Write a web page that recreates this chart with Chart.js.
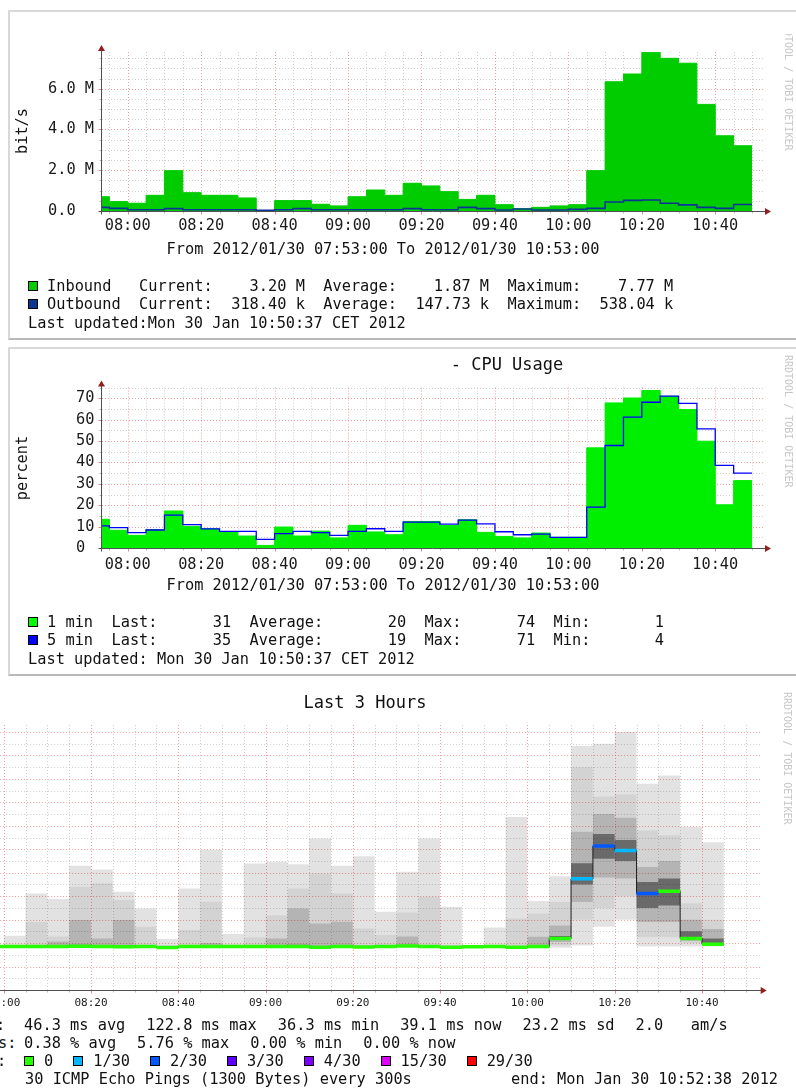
<!DOCTYPE html>
<html>
<head>
<meta charset="utf-8">
<script src="https://cdn.jsdelivr.net/npm/chart.js"></script>
<style>
  html, body { margin: 0; padding: 0; background: #fff; }
  body { width: 796px; height: 1092px; position: relative; overflow: hidden;
         font-family: "DejaVu Sans Mono", monospace; color: #111; }
  .frame { position: absolute; box-sizing: border-box;
           border-top: 2px solid #d8d8d8; border-left: 2px solid #d8d8d8; border-bottom: 2px solid #b8b8b8; }
  canvas { position: absolute; }
  .txt { position: absolute; white-space: pre; font-size: 15.3px; line-height: 18px; }
  .row { position: absolute; white-space: pre; font-size: 15.3px; line-height: 18px; display: flex; align-items: center; }
  .box { display: inline-block; width: 10px; height: 10px; box-sizing: border-box; border: 1px solid #000; margin-right: 9px; }
  .center { left: 0; width: 766px; text-align: center; }
  .vlabel { position: absolute; white-space: pre; font-size: 15.3px; line-height: 18px; transform: translate(-50%, -50%) rotate(-90deg); }
  .title { position: absolute; white-space: pre; font-size: 17px; line-height: 20px; transform: translateX(-50%); }
  .wm { position: absolute; writing-mode: vertical-rl; white-space: pre; font-size: 10px; line-height: 12px; color: #c6c6c6; }
  .items { display: flex; gap: 21px; }
  .lc { display: flex; align-items: center; margin-right: 20px; }
  .lc .box { margin-right: 10px; }
</style>
</head>
<body>

<div class="frame" style="left:8px;top:10px;width:800px;height:330px"></div>
<div class="frame" style="left:8px;top:347px;width:800px;height:329px"></div>

<canvas id="traffic" width="796" height="340" style="left:0;top:0"></canvas>
<canvas id="cpu" width="796" height="340" style="left:0;top:340px"></canvas>
<canvas id="ping" width="880" height="340" style="left:-80px;top:680px"></canvas>

<!-- traffic graph texts -->
<div class="vlabel" style="left:22px;top:131px">bit/s</div>
<div style="position:absolute;left:780px;top:34px;width:16px;height:130px;overflow:hidden">
  <div class="wm" style="left:2px;top:-16px">RRDTOOL / TOBI OETIKER</div>
</div>
<div class="txt center" style="top:240px">From 2012/01/30 07:53:00 To 2012/01/30 10:53:00</div>
<div class="row" style="left:28px;top:277px"><i class="box" style="background:#00cc00"></i>Inbound   Current:    3.20 M  Average:    1.87 M  Maximum:    7.77 M</div>
<div class="row" style="left:28px;top:295px"><i class="box" style="background:#0a3597"></i>Outbound  Current:  318.40 k  Average:  147.73 k  Maximum:  538.04 k</div>
<div class="txt" style="left:28px;top:314px">Last updated:Mon 30 Jan 10:50:37 CET 2012</div>

<!-- cpu graph texts -->
<div class="title" style="left:507px;top:354px">- CPU Usage</div>
<div class="wm" style="left:782px;top:355px">RRDTOOL / TOBI OETIKER</div>
<div class="vlabel" style="left:22px;top:468px">percent</div>
<div class="txt center" style="top:576px">From 2012/01/30 07:53:00 To 2012/01/30 10:53:00</div>
<div class="row" style="left:28px;top:613px"><i class="box" style="background:#00ff00"></i>1 min  Last:      31  Average:       20  Max:      74  Min:       1</div>
<div class="row" style="left:28px;top:631px"><i class="box" style="background:#0000ff"></i>5 min  Last:      35  Average:       19  Max:      71  Min:       4</div>
<div class="txt" style="left:28px;top:650px">Last updated: Mon 30 Jan 10:50:37 CET 2012</div>

<!-- ping graph texts -->
<div class="title" style="left:365px;top:692px">Last 3 Hours</div>
<div class="wm" style="left:781px;top:692px">RRDTOOL / TOBI OETIKER</div>
<div class="txt" style="left:-4px;top:1016px">:</div>
<div class="row items" style="left:24px;top:1016px"><span>46.3 ms avg</span><span>122.8 ms max</span><span>36.3 ms min</span><span>39.1 ms now</span><span>23.2 ms sd</span><span>2.0   am/s</span></div>
<div class="txt" style="left:-2px;top:1034px">s:</div>
<div class="row items" style="left:24px;top:1034px"><span>0.38 % avg</span><span>5.76 % max</span><span>0.00 % min</span><span>0.00 % now</span></div>
<div class="txt" style="left:-3px;top:1052px">:</div>
<div class="row" id="lossLegend" style="left:24px;top:1052px"></div>
<div class="txt" style="left:25px;top:1070px">30 ICMP Echo Pings (1300 Bytes) every 300s</div>
<div class="txt" style="left:511px;top:1070px">end: Mon Jan 30 10:52:38 2012</div>

<script>
// ---------- time axis ----------
const rangeStart = '07:53';
const rangeEnd = '10:53';

// ---------- traffic: 5-minute bins, labelled by bin end ----------
const trafficBinEnds = ['07:55','08:00','08:05','08:10','08:15','08:20','08:25','08:30','08:35','08:40',
  '08:45','08:50','08:55','09:00','09:05','09:10','09:15','09:20','09:25','09:30','09:35','09:40',
  '09:45','09:50','09:55','10:00','10:05','10:10','10:15','10:20','10:25','10:30','10:35','10:40',
  '10:45','10:50'];
const inboundMbit = [0.70, 0.46, 0.38, 0.77, 1.98, 0.90, 0.77, 0.77, 0.64, 0.02,
  0.51, 0.51, 0.33, 0.25, 0.70, 1.03, 0.77, 1.36, 1.23, 0.95, 0.57, 0.77,
  0.31, 0.11, 0.18, 0.25, 0.31, 1.98, 6.34, 6.72, 7.77, 7.49, 7.25, 5.23,
  3.69, 3.20];
const outboundKbit = [180, 130, 60, 60, 115, 60, 60, 60, 60, 40,
  60, 115, 60, 60, 60, 60, 60, 115, 60, 60, 180, 115,
  50, 100, 50, 50, 80, 130, 440, 520, 538, 380, 300, 180,
  130, 318.4];
const trafficTicksM = [0, 2, 4, 6];

// ---------- cpu: same bins ----------
const cpuOneMin = [13.4, 8.3, 5.9, 8.6, 17.3, 10.1, 9.0, 7.5, 5.6, 1.2,
  9.8, 5.6, 7.9, 4.7, 10.6, 7.5, 6.2, 12.4, 12.4, 10.5, 13.2, 7.3,
  5.4, 4.7, 7.0, 5.0, 5.0, 46.8, 67.8, 70.1, 73.6, 70.9, 64.7, 49.9,
  20.2, 31.5];
const cpuFiveMin = [10.3, 9.5, 7.2, 8.4, 15.4, 10.9, 8.9, 7.8, 7.8, 4.0,
  6.7, 7.8, 7.2, 5.9, 7.8, 9.0, 7.8, 12.1, 12.1, 11.2, 13.0, 11.3,
  7.6, 6.2, 6.5, 5.0, 5.0, 19.1, 47.9, 61.2, 68.1, 71.0, 67.6, 55.7,
  38.6, 35.0];

// ---------- smokeping: 5-minute bins, labelled by bin start (ms) ----------
const pingBinStarts = ['07:55','08:00','08:05','08:10','08:15','08:20','08:25','08:30','08:35','08:40',
  '08:45','08:50','08:55','09:00','09:05','09:10','09:15','09:20','09:25','09:30','09:35','09:40',
  '09:45','09:50','09:55','10:00','10:05','10:10','10:15','10:20','10:25','10:30','10:35','10:40'];
const pingMedian = [37.0, 37.0, 37.2, 37.0, 37.3, 37.0, 36.8, 37.0, 36.3, 37.0,
  37.0, 37.0, 37.2, 37.0, 37.0, 36.5, 37.0, 36.6, 37.0, 37.5, 37.0, 36.5,
  36.8, 37.0, 36.5, 37.0, 44.0, 94.8, 122.8, 119.0, 82.3, 84.3, 44.0, 39.1];
const pingLost = [0,0,0,0,0,0,0,0,0,0, 0,0,0,0,0,0,0,0,0,0,0,0, 0,0,0,0,0,1,2,1,2,0,0,0];
const pingMin = [37, 36.5, 36.5, 36.5, 36.8, 36.6, 36.6, 36.6, 36.0, 36.6,
  36.7, 36.6, 36.7, 36.7, 36.7, 36.4, 36.7, 36.4, 36.7, 37.0, 36.7, 36.3,
  36.6, 36.7, 36.3, 36.7, 36, 38, 54, 60, 37, 37, 37, 37];
const pingP10 = [37, 36.8, 36.8, 36.8, 37.0, 36.9, 36.9, 36.9, 36.1, 36.9,
  37.0, 36.8, 37.0, 37.0, 37.0, 36.7, 37.0, 36.6, 37.0, 37.3, 37.0, 36.5,
  36.7, 36.9, 36.5, 37.0, 38, 60, 70, 80, 45, 45, 40, 38];
const pingP25 = [37, 37.0, 37.0, 37.0, 37.3, 37.0, 37.0, 37.0, 36.2, 37.0,
  37.1, 36.9, 37.1, 37.1, 37.2, 36.8, 37.1, 36.8, 37.1, 37.4, 37.1, 36.6,
  36.8, 37.0, 36.6, 37.1, 41, 75, 96, 95, 58, 58, 42, 39];
const pingP40 = [37, 37.0, 37.1, 37.1, 37.6, 37.2, 37.2, 37.1, 36.3, 37.1,
  37.3, 37.0, 37.2, 37.3, 37.3, 37.0, 37.2, 36.9, 37.2, 37.5, 37.2, 36.7,
  36.9, 37.1, 36.7, 37.2, 43, 90, 112, 110, 70, 72, 44, 40];
const pingP60 = [37, 37.2, 37.4, 37.5, 38.5, 37.6, 38.0, 37.4, 36.5, 37.4,
  37.8, 37.2, 37.5, 38.0, 38.5, 37.5, 37.6, 37.2, 37.5, 38.0, 37.5, 37.0,
  37.0, 37.3, 37.0, 37.6, 46, 108, 133, 128, 92, 95, 50, 44];
const pingP75 = [37, 37.5, 38.0, 41.3, 59.6, 44.0, 59.6, 38.0, 37.0, 38.0,
  40.0, 37.5, 38.0, 43.9, 69.6, 56.8, 58.3, 38.0, 38.0, 45.6, 38.0, 37.5,
  37.2, 37.6, 37.5, 45.4, 55, 135, 150, 147, 105, 110, 60, 52];
const pingP90 = [37, 38.0, 58.0, 45.6, 88.0, 91.0, 76.7, 53.9, 38.0, 51.1,
  75.2, 38.5, 44.9, 63.8, 86.6, 99.4, 82.4, 52.5, 46.8, 66.0, 79.5, 38.5,
  37.5, 38.2, 61.0, 65.3, 75, 190, 165, 167, 136, 132, 74, 60];
const pingMax = [37, 46.3, 82.4, 77.6, 106.0, 102.8, 83.8, 69.6, 43.4, 86.6,
  119.3, 47.7, 107.9, 109.3, 107.3, 129.2, 105.9, 114.1, 66.7, 100.8, 129.2, 70.9,
  38.5, 53.4, 147.6, 75.8, 97, 208, 210, 220, 176, 183, 139, 126];

const lossLevels = ['0', '1/30', '2/30', '3/30', '4/30', '15/30', '29/30'];
const lossColors = ['#26ff00', '#00b8ff', '#0059ff', '#5e00ff', '#7e00ff', '#dd00ff', '#ff0000'];

// ---------- helpers ----------
const toMin = s => { const [h, m] = s.split(':').map(Number); return h * 60 + m; };
const fmtHM = v => String(Math.floor(v / 60)).padStart(2, '0') + ':' + String(v % 60).padStart(2, '0');
const xMin = toMin(rangeStart), xMax = toMin(rangeEnd);
const BIN = 5;

function ticksOf(min, max, step) {
  const out = [];
  for (let k = Math.ceil(min / step - 1e-9); k * step <= max + 1e-9; k++) out.push(k * step);
  return out;
}
const isMul = (v, step) => Math.abs(v / step - Math.round(v / step)) < 1e-6;

// step series: each value holds over its bin (end-5, end]; Chart.js 'after'
// stepping puts the vertical edge at the previous point, so the value fills the bin
function stepSeries(ends, vals, scale) {
  const pts = [{ x: xMin, y: vals[0] * scale }];
  ends.forEach((t, i) => pts.push({ x: toMin(t), y: vals[i] * scale }));
  return pts;
}

// rrdtool-like grid, axes, arrows and tick labels drawn from the chart scales
const rrdFrame = {
  id: 'rrdFrame',
  beforeDatasetsDraw(chart, args, o) {
    const { ctx, chartArea: a, scales: { x, y } } = chart;
    ctx.save();
    ctx.lineWidth = 1;
    ctx.setLineDash([1, 2]);
    const xs = ticksOf(x.min, x.max, o.xMinor).filter(v => v > x.min);
    const ys = ticksOf(y.min, y.max, o.yMinor).filter(v => v > y.min);
    for (const major of [false, true]) {
      ctx.strokeStyle = major ? o.majorColor : o.minorColor;
      ctx.beginPath();
      xs.forEach(v => {
        if (isMul(v, o.xMajor) !== major) return;
        const px = Math.round(x.getPixelForValue(v)) + 0.5;
        ctx.moveTo(px, a.top); ctx.lineTo(px, a.bottom);
      });
      ys.forEach(v => {
        if (isMul(v, o.yMajor) !== major) return;
        const py = Math.round(y.getPixelForValue(v)) + 0.5;
        ctx.moveTo(a.left, py); ctx.lineTo(a.right + (o.gridExtend || 0), py);
      });
      ctx.stroke();
    }
    ctx.restore();
  },
  afterDatasetsDraw(chart, args, o) {
    const { ctx, chartArea: a, scales: { x, y } } = chart;
    ctx.save();
    ctx.lineWidth = 1;
    const yb = Math.round(y.getPixelForValue(y.min)) + 0.5;
    const xl = Math.round(x.getPixelForValue(x.min)) - 0.5;
    const xs = ticksOf(x.min, x.max, o.xMinor).filter(v => v > x.min);
    const ys = ticksOf(y.min, y.max, o.yMinor).filter(v => v > y.min);
    // small ticks outside the axes
    xs.forEach(v => {
      const major = isMul(v, o.xMajor);
      const px = Math.round(x.getPixelForValue(v)) + 0.5;
      ctx.strokeStyle = major ? o.majorTick : o.minorTick;
      ctx.beginPath(); ctx.moveTo(px, yb); ctx.lineTo(px, yb + (major ? 3 : 2)); ctx.stroke();
    });
    ys.forEach(v => {
      const major = isMul(v, o.yMajor);
      const py = Math.round(y.getPixelForValue(v)) + 0.5;
      ctx.strokeStyle = major ? o.majorTick : o.minorTick;
      ctx.beginPath(); ctx.moveTo(xl - (major ? 3 : 2), py); ctx.lineTo(xl, py); ctx.stroke();
    });
    // axis lines
    ctx.strokeStyle = o.axisColor;
    ctx.beginPath();
    ctx.moveTo(xl - 3, yb); ctx.lineTo(a.right + 4, yb);
    ctx.moveTo(xl, yb + 3); ctx.lineTo(xl, a.top - 3);
    ctx.stroke();
    // arrow heads
    ctx.fillStyle = o.arrowColor;
    ctx.beginPath();
    ctx.moveTo(a.right + 8, yb); ctx.lineTo(a.right + 2, yb - 3.5); ctx.lineTo(a.right + 2, yb + 3.5); ctx.closePath();
    ctx.moveTo(xl, a.top - 7); ctx.lineTo(xl - 3.5, a.top - 1); ctx.lineTo(xl + 3.5, a.top - 1); ctx.closePath();
    ctx.fill();
    // tick labels
    ctx.fillStyle = '#1a1a1a';
    ctx.textBaseline = 'middle';
    ctx.font = o.xFont;
    ctx.textAlign = 'center';
    xs.filter(v => isMul(v, o.xMajor)).forEach(v => ctx.fillText(fmtHM(v), x.getPixelForValue(v), o.xLabelY));
    if (o.yLabels) {
      ctx.font = o.yFont;
      ctx.textAlign = 'left';
      o.yLabels.forEach(v => ctx.fillText(o.yFormat(v), o.yLabelX, y.getPixelForValue(v)));
    }
    ctx.restore();
  }
};

const baseOptions = (padding, xScale, yScale, frame) => ({
  responsive: false, animation: false, events: [], devicePixelRatio: 1,
  layout: { padding },
  scales: { x: Object.assign({ type: 'linear', display: false, offset: false }, xScale),
            y: Object.assign({ type: 'linear', display: false }, yScale) },
  plugins: { legend: { display: false }, tooltip: { enabled: false }, rrdFrame: frame }
});

const frameStyle = {
  minorColor: '#cfcfcf', majorColor: 'rgba(235,80,80,0.55)',
  minorTick: '#bdbdbd', majorTick: '#e08a8a',
  axisColor: '#505050', arrowColor: '#931f1f',
  xFont: '15.3px "DejaVu Sans Mono"', yFont: '15.3px "DejaVu Sans Mono"'
};

// ---------- traffic chart ----------
new Chart(document.getElementById('traffic'), {
  type: 'line',
  data: { datasets: [
    { data: stepSeries(trafficBinEnds, outboundKbit, 1e3), stepped: 'after', borderColor: '#0a3597',
      borderWidth: 1.6, pointRadius: 0, fill: false, order: 0 },
    { data: stepSeries(trafficBinEnds, inboundMbit, 1e6), stepped: 'after', borderColor: '#00cc00',
      backgroundColor: '#00cc00', borderWidth: 1, pointRadius: 0, fill: 'origin', order: 1 }
  ] },
  options: baseOptions({ left: 102, right: 33, top: 52, bottom: 129 },
    { min: xMin, max: xMax }, { min: 0, max: 7.8e6 },
    Object.assign({}, frameStyle, {
      xMinor: 5, xMajor: 20, yMinor: 0.5e6, yMajor: 2e6,
      xLabelY: 226, yLabelX: 48,
      yLabels: trafficTicksM.map(v => v * 1e6),
      yFormat: v => v === 0 ? '0.0' : (v / 1e6).toFixed(1) + ' M'
    })),
  plugins: [rrdFrame]
});

// ---------- cpu chart ----------
new Chart(document.getElementById('cpu'), {
  type: 'line',
  data: { datasets: [
    { data: stepSeries(trafficBinEnds, cpuFiveMin, 1), stepped: 'after', borderColor: '#0000ff',
      borderWidth: 1.3, pointRadius: 0, fill: false, order: 0 },
    { data: stepSeries(trafficBinEnds, cpuOneMin, 1), stepped: 'after', borderColor: '#00ee00',
      backgroundColor: '#00ee00', borderWidth: 1, pointRadius: 0, fill: 'origin', order: 1 }
  ] },
  options: baseOptions({ left: 102, right: 33, top: 47.5, bottom: 132 },
    { min: xMin, max: xMax }, { min: 0, max: 75 },
    Object.assign({}, frameStyle, {
      xMinor: 5, xMajor: 20, yMinor: 5, yMajor: 10,
      xLabelY: 225, yLabelX: 76,
      yLabels: ticksOf(0, 70, 10),
      yFormat: v => String(v)
    })),
  plugins: [rrdFrame]
});

// ---------- smokeping chart ----------
const band = (lo, hi, alpha, order) => ({
  type: 'bar', order, grouped: false, barPercentage: 1, categoryPercentage: 1,
  borderWidth: 0, inflateAmount: 0, backgroundColor: `rgba(0,0,0,${alpha})`,
  data: pingBinStarts.map((t, i) => ({ x: toMin(t) + BIN / 2, y: [lo[i], hi[i]] }))
});

// median as a step line: value holds from each bin start to the next
const medianSteps = pingBinStarts.map((t, i) => ({ x: toMin(t), y: pingMedian[i] }));
medianSteps.push({ x: toMin(pingBinStarts[pingBinStarts.length - 1]) + BIN, y: pingMedian[pingMedian.length - 1] });

// thick loss-coloured median segments, one per bin
const medianBars = [];
pingBinStarts.forEach((t, i) => {
  const s = toMin(t);
  medianBars.push({ x: s, y: pingMedian[i] }, { x: s + BIN, y: pingMedian[i] }, { x: s + BIN, y: NaN });
});

new Chart(document.getElementById('ping'), {
  type: 'line',
  data: { datasets: [
    { data: medianBars, borderWidth: 3.5, pointRadius: 0, spanGaps: false, borderCapStyle: 'butt',
      borderColor: lossColors[0], order: 0,
      segment: { borderColor: c => lossColors[pingLost[Math.floor(c.p0DataIndex / 3)]] } },
    { data: medianSteps, stepped: 'before', borderWidth: 1, borderColor: '#222', pointRadius: 0, order: 1 },
    band(pingP40, pingP60, 0.41, 2),
    band(pingP25, pingP75, 0.15, 3),
    band(pingP10, pingP90, 0.065, 4),
    band(pingMin, pingMax, 0.115, 5)
  ] },
  options: baseOptions({ left: 53.15, right: 41.3, top: 45, bottom: 30 },
    { min: xMin, max: xMax }, { min: 0, max: 226 },
    Object.assign({}, frameStyle, {
      xMinor: 5, xMajor: 20, yMinor: 10, yMajor: 20, gridExtend: 3,
      xLabelY: 323, xFont: '11px "DejaVu Sans Mono"', yLabels: null
    })),
  plugins: [rrdFrame]
});

// loss colour legend
const lossLegend = document.getElementById('lossLegend');
lossLevels.forEach((lbl, i) => {
  const item = document.createElement('span');
  item.className = 'lc';
  const b = document.createElement('i');
  b.className = 'box';
  b.style.background = lossColors[i];
  item.appendChild(b);
  item.appendChild(document.createTextNode(lbl));
  lossLegend.appendChild(item);
});
</script>
</body>
</html>
